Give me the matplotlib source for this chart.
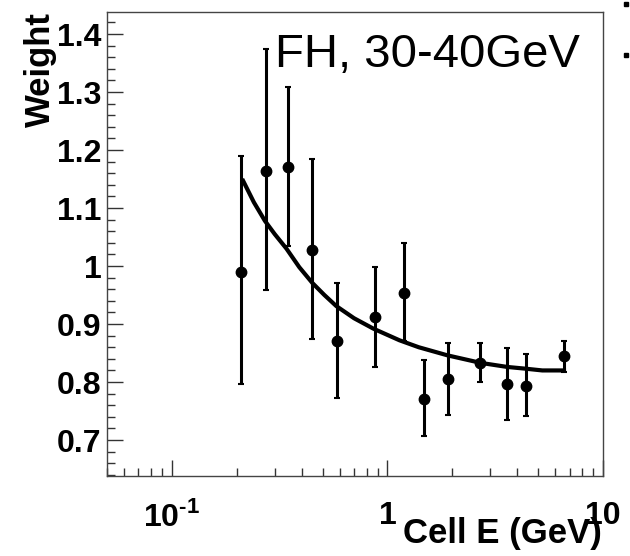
import matplotlib
matplotlib.use('Agg')
import matplotlib.pyplot as plt
from matplotlib.ticker import FixedLocator, FixedFormatter, LogLocator, MultipleLocator, NullFormatter

plt.rcParams['font.family'] = ['Liberation Sans', 'DejaVu Sans']
plt.rcParams['mathtext.fontset'] = 'custom'
plt.rcParams['mathtext.rm'] = 'Liberation Sans:bold'
plt.rcParams['mathtext.bf'] = 'Liberation Sans:bold'

# measured points (cell energy in GeV, weight, asymmetric errors)
cell_e = [0.210, 0.272, 0.347, 0.448, 0.585, 0.871, 1.19, 1.475, 1.915, 2.69, 3.60, 4.38, 6.59]
weight = [0.990, 1.164, 1.170, 1.028, 0.870, 0.912, 0.953, 0.771, 0.805, 0.833, 0.797, 0.794, 0.845]
err_hi = [1.189, 1.374, 1.309, 1.185, 0.970, 0.998, 1.040, 0.838, 0.867, 0.868, 0.858, 0.848, 0.871]
err_lo = [0.797, 0.959, 1.035, 0.874, 0.773, 0.826, 0.871, 0.707, 0.743, 0.800, 0.734, 0.742, 0.817]

# fitted curve
fit_e = [0.214, 0.240, 0.270, 0.300, 0.340, 0.390, 0.448, 0.510, 0.579, 0.700, 0.861, 1.137,
         1.397, 1.90, 2.71, 3.60, 4.38, 5.23, 6.59]
fit_w = [1.147, 1.110, 1.078, 1.055, 1.030, 0.998, 0.971, 0.950, 0.931, 0.910, 0.892, 0.872,
         0.860, 0.846, 0.833, 0.826, 0.823, 0.820, 0.820]

xticks = [0.1, 1, 10]
xtick_labels = [r'$10^{\text{-}1}$', '1', '10']
yticks = [0.7, 0.8, 0.9, 1.0, 1.1, 1.2, 1.3, 1.4]
ytick_labels = ['0.7', '0.8', '0.9', '1', '1.1', '1.2', '1.3', '1.4']

fig = plt.figure(figsize=(6.3, 5.56), dpi=100)
ax = fig.add_axes([107/630, 80/556, 496/630, 464/556])

yerr = [[w - l for w, l in zip(weight, err_lo)], [h - w for w, h in zip(weight, err_hi)]]
ax.errorbar(cell_e, weight, yerr=yerr, fmt='o', color='black', ms=7.5,
            elinewidth=2.2, capsize=2.5, capthick=1.5, zorder=3)
ax.plot(fit_e, fit_w, color='black', lw=3.0, zorder=2)

ax.set_xscale('log')
ax.set_xlim(0.05, 10)
ax.set_ylim(0.638, 1.438)

ax.xaxis.set_major_locator(FixedLocator(xticks))
ax.xaxis.set_major_formatter(FixedFormatter(xtick_labels))
ax.xaxis.set_minor_locator(LogLocator(base=10, subs=[2, 3, 4, 5, 6, 7, 8, 9]))
ax.xaxis.set_minor_formatter(NullFormatter())
ax.yaxis.set_major_locator(FixedLocator(yticks))
ax.yaxis.set_major_formatter(FixedFormatter(ytick_labels))
ax.yaxis.set_minor_locator(MultipleLocator(0.02))

ax.tick_params(which='both', direction='in', top=False, right=False, width=1.0, color='#333333')
ax.tick_params(which='major', length=11.5, labelsize=23)
ax.tick_params(which='minor', length=5.5)
ax.tick_params(axis='x', which='major', pad=18)
ax.tick_params(axis='y', which='major', pad=4)
for lab in ax.get_xticklabels() + ax.get_yticklabels():
    lab.set_fontweight('bold')
for s in ax.spines.values():
    s.set_linewidth(1.0)
    s.set_color('#444444')

ax.text((275 - 107) / 496, 0.955, 'FH, 30-40GeV', transform=ax.transAxes, fontsize=34,
        ha='left', va='top')

fig.text(40/630, 544/556, 'Weight', rotation=90, ha='center', va='top',
         fontsize=25, fontweight='bold')
fig.text(602/630, 13/556, 'Cell E (GeV)', ha='right', va='baseline',
         fontsize=25, fontweight='bold')

# cut-off marks at the right edge
fig.add_artist(plt.Line2D([626/630], [1 - 4/556], marker='s', ms=3, color='black',
                          transform=fig.transFigure))
fig.add_artist(plt.Line2D([626/630], [1 - 55/556], marker='s', ms=3, color='black',
                          transform=fig.transFigure))

fig.savefig('out.png', dpi=100)
